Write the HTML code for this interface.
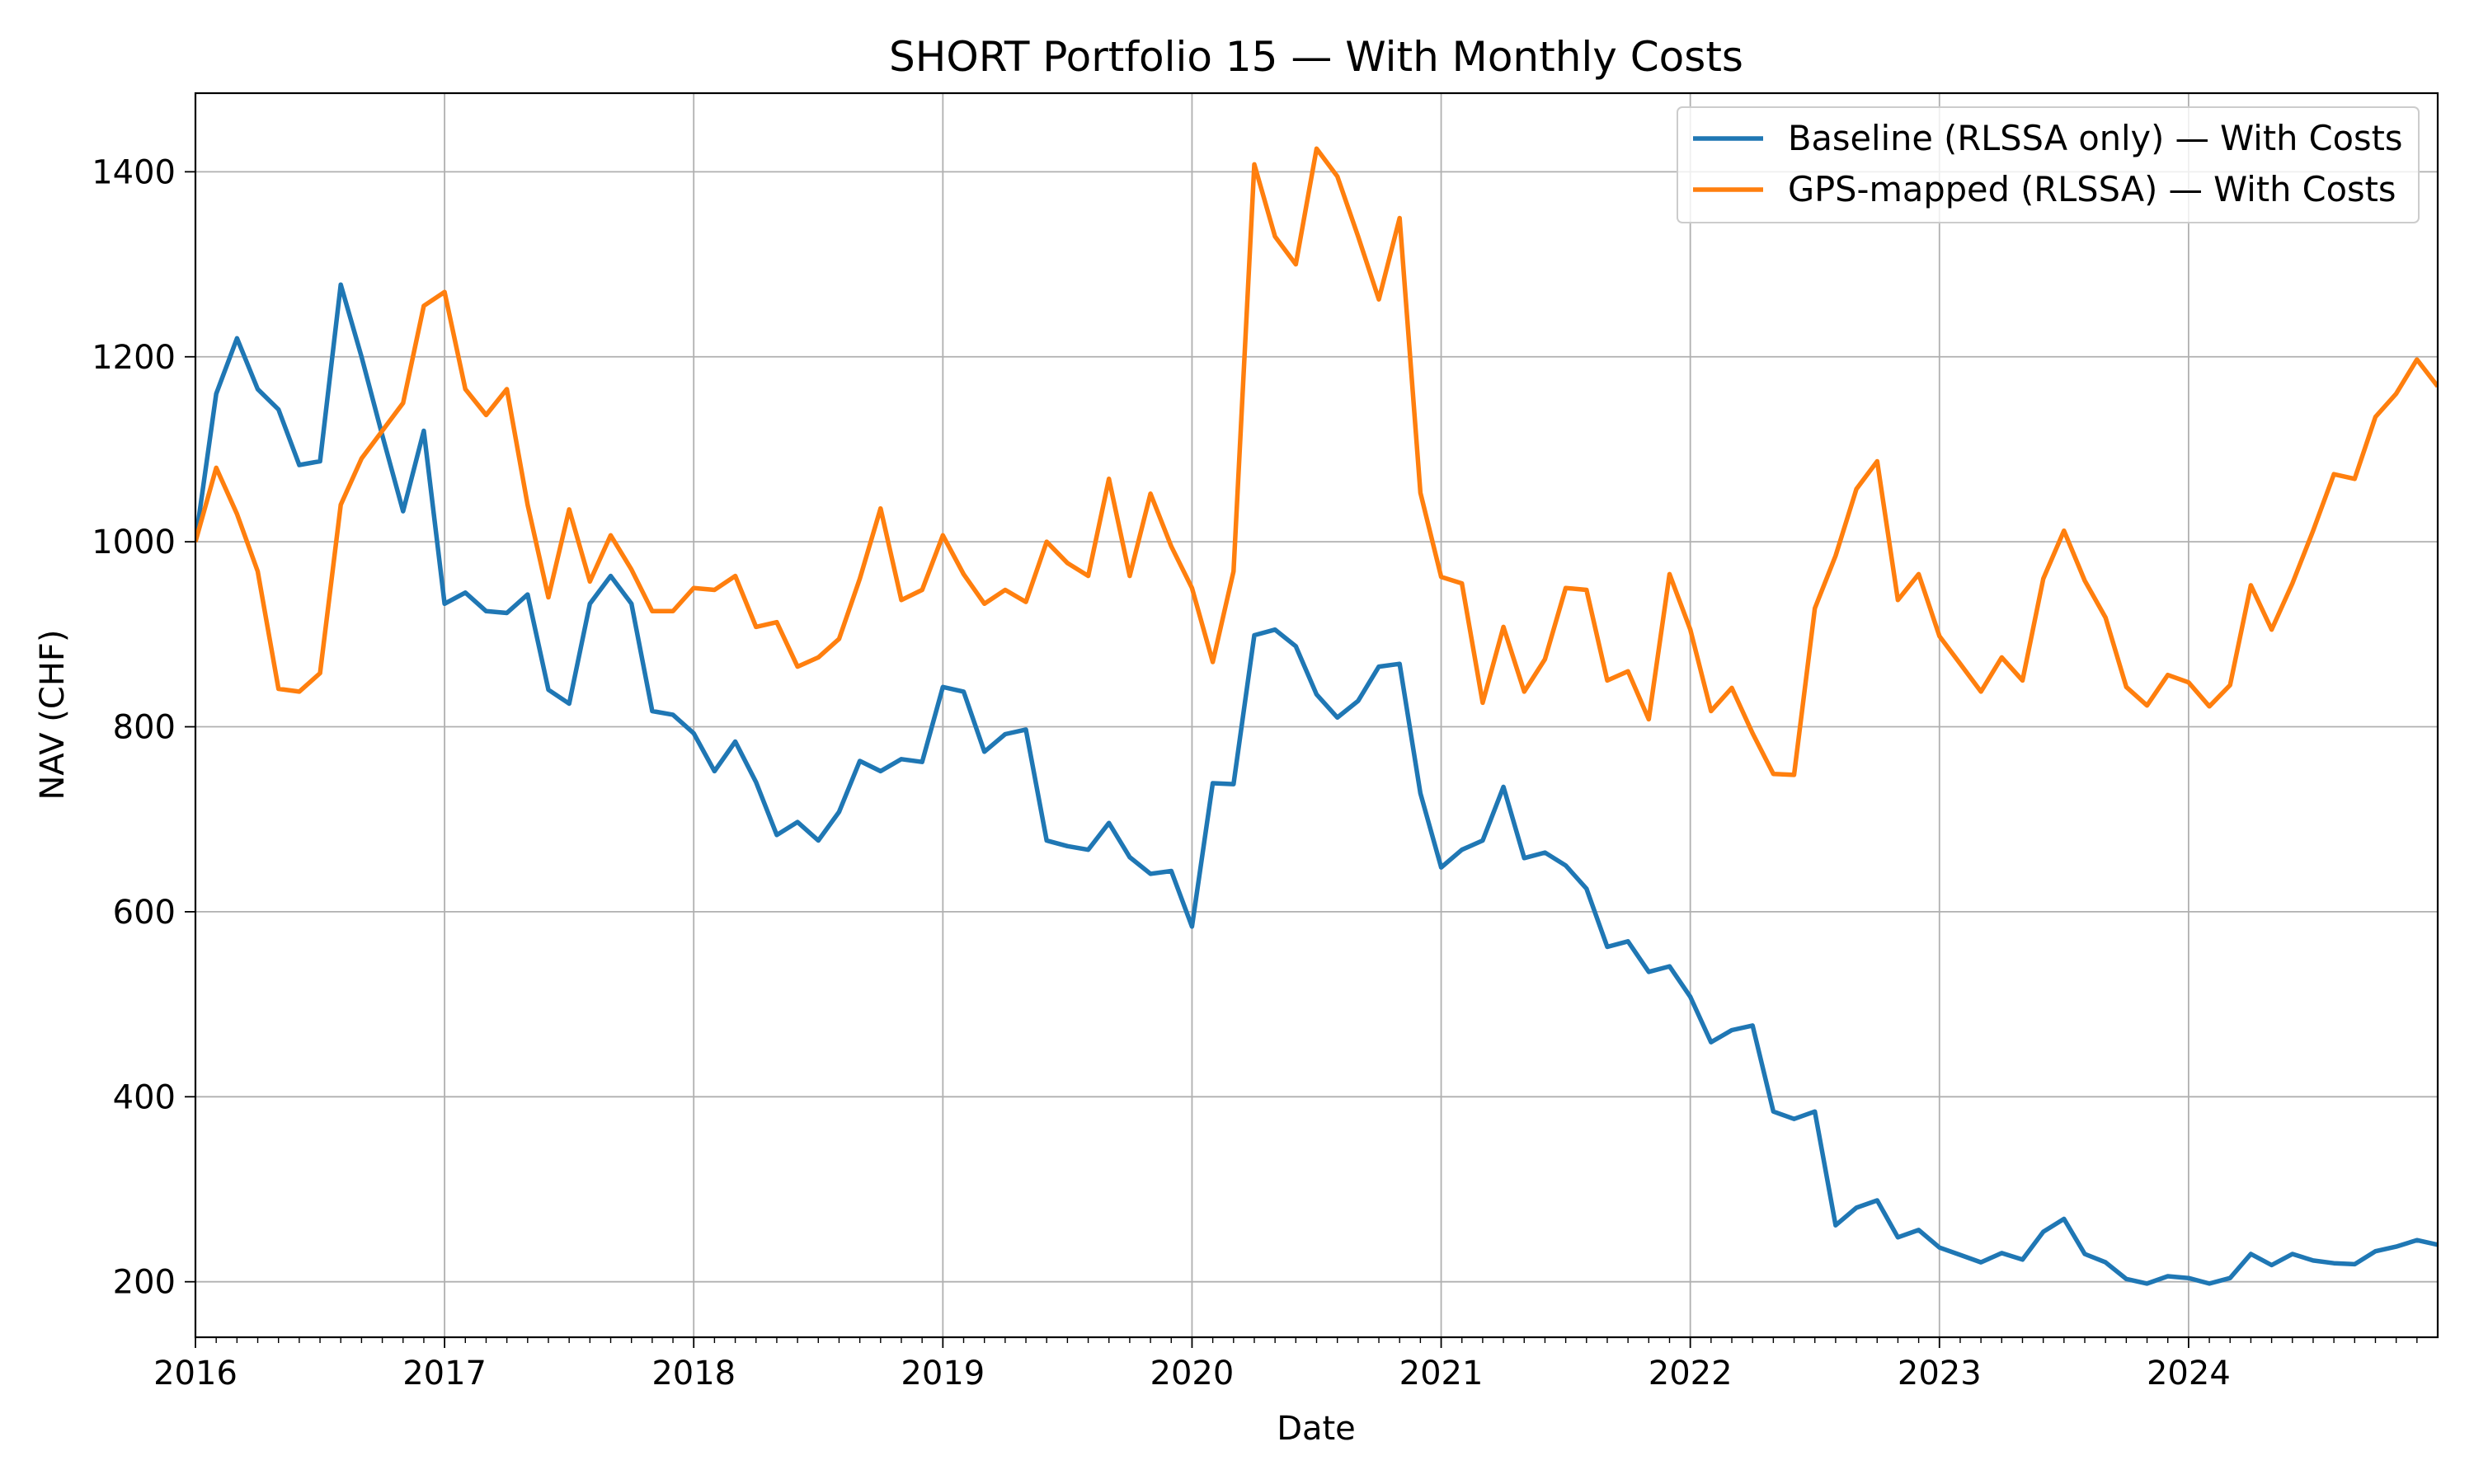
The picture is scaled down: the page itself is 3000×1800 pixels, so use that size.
<!DOCTYPE html>
<html><head><meta charset="utf-8">
<style>
html,body{margin:0;padding:0;background:#fff;}
svg{display:block;font-family:"DejaVu Sans","Liberation Sans",sans-serif;}
</style></head>
<body>
<svg id="chart" width="3000" height="1800" viewBox="0 0 3000 1800" xmlns="http://www.w3.org/2000/svg">
<rect width="3000" height="1800" fill="#fff"/>
<g id="grid"></g>
<g id="series"></g>
<rect x="237" y="113" width="2719" height="1509" fill="none" stroke="#000" stroke-width="2.2"/>
<g id="axes"></g>
<text x="1596" y="86" font-size="50" text-anchor="middle">SHORT Portfolio 15 — With Monthly Costs</text>
<text x="1596" y="1746" font-size="40" text-anchor="middle">Date</text>
<text transform="translate(77,867) rotate(-90)" font-size="40" text-anchor="middle">NAV (CHF)</text>
<g>
<rect x="2034" y="130" width="899" height="140" rx="6" fill="#fff" fill-opacity="0.8" stroke="#ccc" stroke-width="2"/>
<line x1="2053" y1="168" x2="2138" y2="168" stroke="#1f77b4" stroke-width="5.5"/>
<text x="2168" y="182" font-size="41.5">Baseline (RLSSA only) — With Costs</text>
<line x1="2053" y1="230" x2="2138" y2="230" stroke="#ff7f0e" stroke-width="5.5"/>
<text x="2168" y="244" font-size="41.5">GPS-mapped (RLSSA) — With Costs</text>
</g>
</svg>
<script>
const yearLabels = ["2016","2017","2018","2019","2020","2021","2022","2023","2024"];
const yTicks = [200,400,600,800,1000,1200,1400];
const baseline = [1000,1160,1220,1165,1143,1083,1087,1278,1200,1115,1033,1120,
933,945,925,923,943,840,825,933,963,933,817,813,
793,752,784,740,683,697,677,708,763,752,765,762,
843,838,773,792,797,677,671,667,696,659,641,644,
584,739,738,899,905,887,835,810,828,865,868,728,
648,667,677,735,658,664,650,625,562,568,535,541,
508,459,472,477,384,376,384,261,280,288,248,256,
237,229,221,231,224,254,268,230,221,203,198,206,
204,198,204,230,218,230,223,220,219,233,238,245,240];
const gps = [1000,1080,1030,968,841,838,858,1040,1090,1120,1150,1255,
1270,1165,1137,1165,1040,940,1035,957,1007,970,925,925,
950,948,963,908,913,865,875,895,960,1036,937,948,
1007,965,933,948,935,1000,977,963,1068,963,1052,995,
950,870,968,1408,1330,1300,1425,1395,1330,1262,1350,1053,
962,955,826,908,838,873,950,948,850,860,808,965,
905,817,842,793,749,748,928,985,1057,1087,937,965,
898,868,838,875,850,960,1012,958,918,843,823,856,
848,822,845,953,905,955,1012,1073,1068,1135,1160,1197,1168];

const L=237,R=2956,T=113,B=1622,X0=0,X1=108,Y0=140,Y1=1485;
const xs=m=>L+(m-X0)/(X1-X0)*(R-L);
const ys=v=>B-(v-Y0)/(Y1-Y0)*(B-T);
const NS="http://www.w3.org/2000/svg";
function mk(tag,attrs,parent){const e=document.createElementNS(NS,tag);for(const k in attrs)e.setAttribute(k,attrs[k]);parent.appendChild(e);return e;}
const grid=document.getElementById('grid'),axes=document.getElementById('axes'),ser=document.getElementById('series');

yearLabels.forEach((lab,i)=>{
  const x=xs(i*12);
  const g=mk('line',{x1:x,x2:x,y1:T,y2:B,stroke:'#b0b0b0','stroke-width':1.8},grid);
  
  
  mk('line',{x1:x,x2:x,y1:B,y2:B+13,stroke:'#000','stroke-width':1.8},axes);
  const t=mk('text',{x:x,y:B+57,'font-size':40,'text-anchor':'middle'},axes);
  t.textContent=lab;
  
  
});
for(let m=0;m<=X1;m++){ if(m%12) mk('line',{x1:xs(m),x2:xs(m),y1:B,y2:B+7,stroke:'#000','stroke-width':1.4},axes); }
yTicks.forEach(v=>{
  const y=ys(v);
  const g=mk('line',{x1:L,x2:R,y1:y,y2:y,stroke:'#b0b0b0','stroke-width':1.8},grid);
  
  
  mk('line',{x1:L-13,x2:L,y1:y,y2:y,stroke:'#000','stroke-width':1.8},axes);
  const t=mk('text',{x:L-24,y:y+14,'font-size':40,'text-anchor':'end'},axes);
  t.textContent=v;
  
  
});
function line(data,color,name){
  const d=data.map((v,i)=>(i?'L':'M')+xs(i).toFixed(1)+' '+ys(v).toFixed(1)).join(' ');
  const p=mk('path',{d:d,fill:'none',stroke:color,'stroke-width':5.5,'stroke-linejoin':'round'},ser);
  
  
}
const clip=mk('clipPath',{id:'pc'},document.getElementById('chart'));
mk('rect',{x:L,y:T,width:R-L,height:B-T},clip);
ser.setAttribute('clip-path','url(#pc)');
line(baseline,'#1f77b4','baseline-line');
line(gps,'#ff7f0e','gps-mapped-line');
</script>
</body></html>
